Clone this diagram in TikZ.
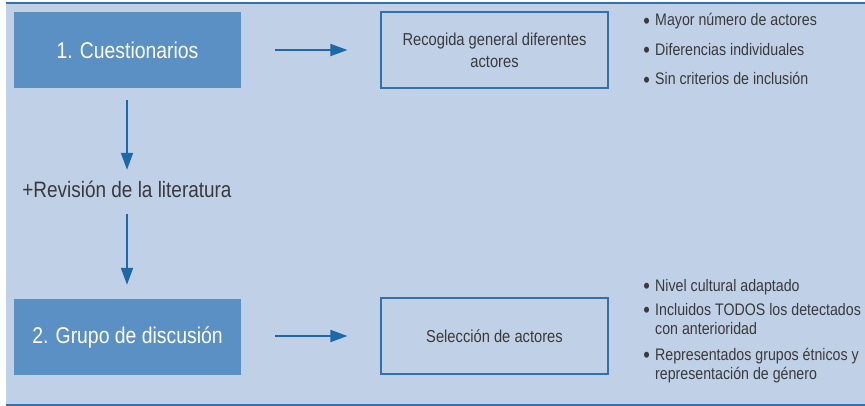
\documentclass[tikz,border=0pt]{standalone}
\usepackage{fontspec}
\setmainfont{Liberation Sans}[FakeStretch=0.85]
\usetikzlibrary{arrows.meta}
\definecolor{bgblue}{HTML}{C0D1E7}
\definecolor{boxblue}{HTML}{5A90C4}
\definecolor{arrblue}{HTML}{1C68A8}
\definecolor{lineblue}{HTML}{2F72AE}
\definecolor{txtgray}{HTML}{3A3A3A}
\tikzset{
  titlebox/.style={fill=boxblue, minimum width=227pt, minimum height=76pt, inner sep=0pt,
    text=white, font=\fontsize{22.8pt}{26pt}\selectfont},
  outbox/.style={draw=lineblue, line width=1.2pt, minimum width=227pt, minimum height=76pt,
    inner sep=0pt, text=txtgray, align=center, font=\fontsize{17.3pt}{22pt}\selectfont},
  arr/.style={draw=arrblue, line width=1.8pt, -{Triangle[length=17pt,width=12pt]}},
  itemtxt/.style={anchor=base west, inner sep=0pt, text=txtgray, font=\fontsize{16.7pt}{19pt}\selectfont},
  bul/.style={itemtxt, label={[text=txtgray, font=\fontsize{22pt}{19pt}\selectfont, anchor=base east, inner sep=0pt, xshift=-5pt, yshift=-2.2pt]base west:\textbullet}},
  revtxt/.style={inner sep=0pt, text height=15pt, text depth=4pt, text=txtgray, font=\fontsize{22.3pt}{26pt}\selectfont},
}
\begin{document}
\begin{tikzpicture}[x=1pt,y=-1pt]
\useasboundingbox (0,0) rectangle (865,406);
\fill[bgblue] (6,3) rectangle (865,405);
\draw[lineblue, line width=1.6pt] (6,3) -- (865,3);
\draw[lineblue, line width=1.6pt] (6,405) -- (865,405);

\node[titlebox] (q1) at (127.5,50) {1. Cuestionarios};
\node[titlebox] (q2) at (127.5,337) {2. Grupo de discusión};
\node[outbox] (r1) at (494.5,50) {Recogida general diferentes\\actores};
\node[outbox] (r2) at (494.5,336) {Selección de actores};
\node[revtxt] (rev) at (127,192.5) {+Revisión de la literatura};

\draw[arr, shorten <=34pt, shorten >=33pt] (q1.east) -- (q1.east -| r1.west);
\draw[arr, shorten <=34pt, shorten >=33pt] (q2.east |- r2.west) -- (r2.west);
\draw[arr, shorten <=12pt, shorten >=13pt] (q1.south -| rev.north) -- (rev.north);
\draw[arr, shorten <=12pt, shorten >=14pt] (rev.south) -- (rev.south |- q2.north);

\node[bul] (a1) at (655,26) {Mayor número de actores};
\node[bul] (a2) at (655,55.5) {Diferencias individuales};
\node[bul] (a3) at (655,85) {Sin criterios de inclusión};

\node[bul] (b1) at (655,291) {Nivel cultural adaptado};
\node[bul] (b2) at (655,315) {Incluidos TODOS los detectados};
\node[itemtxt] (b2b) at (655,334) {con anterioridad};
\node[bul] (b3) at (655,360) {Representados grupos étnicos y};
\node[itemtxt] (b3b) at (655,379) {representación de género};
\end{tikzpicture}
\end{document}
